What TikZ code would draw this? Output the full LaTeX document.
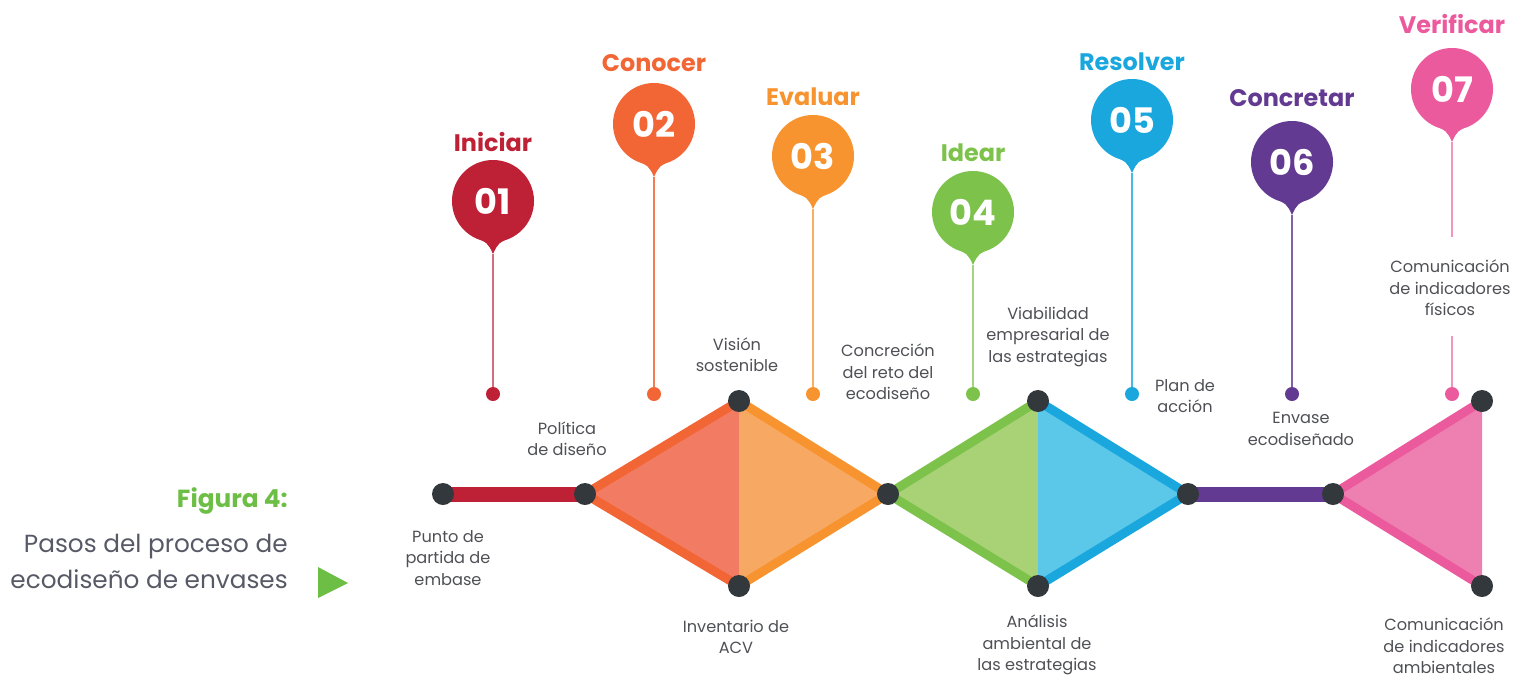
\documentclass[tikz,border=0pt]{standalone}
\usepackage{fontspec}
\setmainfont{Poppins}
\usetikzlibrary{calc,backgrounds}

\definecolor{cIni}{HTML}{BE2035}
\definecolor{cCon}{HTML}{F26535}
\definecolor{cEva}{HTML}{F7942F}
\definecolor{cIde}{HTML}{7DC24B}
\definecolor{cRes}{HTML}{1AA7DE}
\definecolor{cCot}{HTML}{633A92}
\definecolor{cVer}{HTML}{EC5A9E}
\definecolor{fSalmon}{HTML}{F27B63}
\definecolor{fOrange}{HTML}{F7A862}
\definecolor{fGreen}{HTML}{A9D277}
\definecolor{fBlue}{HTML}{5BC8EA}
\definecolor{fPink}{HTML}{EE80B1}
\definecolor{ink}{HTML}{4F5055}
\definecolor{titleink}{HTML}{575A66}
\definecolor{figgreen}{HTML}{6DBE45}
\definecolor{jointc}{HTML}{33383C}

\tikzset{
  lbl/.style={font=\fontsize{11.5}{15.2}\selectfont, text=ink, align=center, inner sep=0pt},
  head/.style={font=\fontsize{17}{20}\selectfont\bfseries, inner sep=0pt},
  pinc/.style={circle, minimum size=2.05cm, inner sep=0pt, text=white,
               font=\fontsize{25}{25}\selectfont\bfseries},
  tick/.style={circle, minimum size=0.35cm, inner sep=0pt},
  joint/.style={circle, fill=jointc, minimum size=0.55cm, inner sep=0pt},
  stem/.style={line width=0.06cm},
  bar/.style={line width=0.375cm},
  rim/.style={line width=0.225cm, line join=miter},
  side/.style={font=\fontsize{17.6}{22}\selectfont, text=titleink, inner sep=0pt, anchor=base east},
}

% #1 id, #2 x, #3 y of the circle, #4 colour, #5 number, #6 heading, #7 heading offset
\newcommand\pinmark[7]{%
  \node[pinc, fill=#4] (p#1) at (#2,#3) {#5};
  \fill[#4] ($(p#1.center)+(-21,35)$)
     .. controls ($(p#1.center)+(-5,42)$) .. ($(p#1.center)+(0,53)$) coordinate (t#1)
     .. controls ($(p#1.center)+(5,42)$) .. ($(p#1.center)+(21,35)$) -- cycle;
  \node[head, text=#4] (h#1) at ($(p#1.center)+(0,#7)$) {#6};
  \node[tick, fill=#4] (k#1) at (#2,394) {};
}

\begin{document}
\begin{tikzpicture}[x=0.025cm, y=-0.025cm]
\useasboundingbox (0,0) rectangle (1520,678);

% side caption
\node[side, font=\fontsize{17.6}{22}\selectfont\bfseries, text=figgreen] (fig) at (288,507) {Figura 4:};
\node[side] (cap1) at (288,552) {Pasos del proceso de};
\node[side] (cap2) at (288,588) {ecodiseño de envases};
\fill[figgreen] (318,567) -- (318,598) -- (348,583) -- cycle;

% timeline joints
\node[joint] (n1) at (443,494) {};
\node[joint] (n2) at (585,494) {};
\node[joint] (n3) at (739,401) {};
\node[joint] (n4) at (739,586) {};
\node[joint] (n5) at (888,494) {};
\node[joint] (n6) at (1038,401) {};
\node[joint] (n7) at (1038,586) {};
\node[joint] (n8) at (1188,494) {};
\node[joint] (n9) at (1333,494) {};
\node[joint] (n10) at (1482,401) {};
\node[joint] (n11) at (1482,586) {};

\begin{scope}[on background layer]
  % bars
  \draw[bar, cIni] (n1.center) -- (n2.center);
  \draw[bar, cCot] (n8.center) -- (n9.center);
  % first diamond
  \fill[fSalmon] (n2.center) -- (n3.center) -- (n4.center) -- cycle;
  \fill[fOrange] (n5.center) -- (n3.center) -- (n4.center) -- cycle;
  \draw[rim, cCon] (n3.center) -- (n2.center) -- (n4.center);
  \draw[rim, cEva] (n3.center) -- (n5.center) -- (n4.center);
  % second diamond
  \fill[fGreen] (n5.center) -- (n6.center) -- (n7.center) -- cycle;
  \fill[fBlue] (n8.center) -- (n6.center) -- (n7.center) -- cycle;
  \draw[rim, cIde] (n6.center) -- (n5.center) -- (n7.center);
  \draw[rim, cRes] (n6.center) -- (n8.center) -- (n7.center);
  % final triangle
  \fill[fPink] (n9.center) -- (n10.center) -- (n11.center) -- cycle;
  \draw[rim, cVer] (n10.center) -- (n9.center) -- (n11.center);
\end{scope}

% step pins
\pinmark{1}{493}{201}{cIni}{01}{Iniciar}{-59}
\pinmark{2}{654}{124}{cCon}{02}{Conocer}{-61}
\pinmark{3}{813}{156}{cEva}{03}{Evaluar}{-59}
\pinmark{4}{973}{212}{cIde}{04}{Idear}{-59}
\pinmark{5}{1132}{120}{cRes}{05}{Resolver}{-58}
\pinmark{6}{1292}{162}{cCot}{06}{Concretar}{-64}
\pinmark{7}{1452}{89}{cVer}{07}{Verificar}{-65}

\begin{scope}[on background layer]
  \draw[stem, cIni!65] (t1) -- (k1);
  \draw[stem, cCon!85] (t2) -- (k2);
  \draw[stem, cEva!75] (t3) -- (k3);
  \draw[stem, cIde!70] (t4) -- (k4);
  \draw[stem, cRes!80] (t5) -- (k5);
  \draw[stem, cCot!80] (t6) -- (k6);
  \coordinate (v7a) at (1452,237);
  \coordinate (v7b) at (1452,336);
  \draw[stem, cVer!65] (t7) -- (v7a);
  \draw[stem, cVer!65] (v7b) -- (k7);
\end{scope}

% step labels
\node[lbl] (lpunto) at (448,558) {Punto de\\partida de\\embase};
\node[lbl] (lpol) at (567,439) {Política\\de diseño};
\node[lbl] (lvis) at (737,355) {Visión\\sostenible};
\node[lbl] (linv) at (736,637) {Inventario de\\ACV};
\node[lbl] (lcon) at (888,372) {Concreción\\del reto del\\ecodiseño};
\node[lbl] (lvia) at (1048,337) {Viabilidad\\empresarial de\\las estrategias};
\node[lbl] (lplan) at (1185,396) {Plan de\\acción};
\node[lbl] (lenv) at (1301,429) {Envase\\ecodiseñado};
\node[lbl] (lfis) at (1450,288) {Comunicación\\de indicadores\\físicos};
\node[lbl] (lana) at (1037,645) {Análisis\\ambiental de\\las estrategias};
\node[lbl] (lamb) at (1444,646) {Comunicación\\de indicadores\\ambientales};
\end{tikzpicture}
\end{document}
